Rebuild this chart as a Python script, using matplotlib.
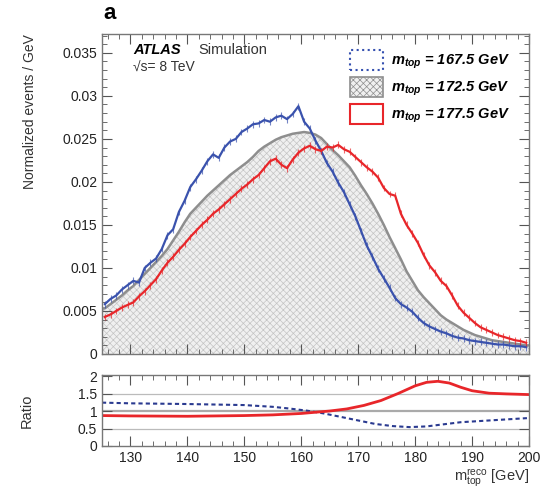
import matplotlib
matplotlib.use("Agg")
import matplotlib.pyplot as plt
import matplotlib.ticker as mticker
from matplotlib.patches import Patch
import numpy as np

plt.rcParams["font.family"] = ["Liberation Sans", "DejaVu Sans"]
plt.rcParams["mathtext.fontset"] = "custom"
plt.rcParams["mathtext.rm"] = "Liberation Sans"
plt.rcParams["mathtext.it"] = "Liberation Sans:italic:bold"
plt.rcParams["mathtext.bf"] = "Liberation Sans:bold"
plt.rcParams["hatch.color"] = "#c4c4c4"
plt.rcParams["hatch.linewidth"] = 0.5

# 1 GeV bins, 125 - 200 GeV
bin_edges = np.arange(125, 201, 1)

m1725 = [0.0053, 0.0058, 0.0063, 0.0068, 0.0074, 0.0079, 0.0086, 0.0093, 0.0100, 0.0107,
         0.0114, 0.0122, 0.0132, 0.0142, 0.0153, 0.0163, 0.0170, 0.0177, 0.0184, 0.0190,
         0.0196, 0.0202, 0.0208, 0.0213, 0.0218, 0.0223, 0.0229, 0.0236, 0.0241, 0.0245,
         0.0249, 0.0252, 0.0254, 0.0256, 0.0257, 0.0258, 0.0257, 0.0255, 0.0251, 0.0244,
         0.0237, 0.0231, 0.0224, 0.0217, 0.0207, 0.0196, 0.0186, 0.0175, 0.0163, 0.0150,
         0.0136, 0.0123, 0.0110, 0.0096, 0.0085, 0.0074, 0.0066, 0.0059, 0.0052, 0.0045,
         0.0040, 0.0036, 0.0032, 0.0028, 0.0025, 0.0022, 0.0020, 0.0018, 0.0016, 0.0015,
         0.0014, 0.0013, 0.0012, 0.0011, 0.0010]

m1675 = [0.0058, 0.0064, 0.0068, 0.0075, 0.0080, 0.0085, 0.0083, 0.0100, 0.0106, 0.0111,
         0.0122, 0.0138, 0.0145, 0.0165, 0.0178, 0.0194, 0.0203, 0.0213, 0.0224, 0.0232,
         0.0228, 0.0240, 0.0247, 0.0250, 0.0258, 0.0262, 0.0267, 0.0268, 0.0272, 0.0270,
         0.0275, 0.0277, 0.0273, 0.0279, 0.0288, 0.0270, 0.0262, 0.0248, 0.0236, 0.0222,
         0.0212, 0.0199, 0.0188, 0.0174, 0.0160, 0.0143, 0.0126, 0.0113, 0.0099, 0.0088,
         0.0077, 0.0065, 0.0058, 0.0054, 0.0049, 0.0042, 0.0036, 0.0032, 0.0029, 0.0026,
         0.0024, 0.0021, 0.0019, 0.0018, 0.0016, 0.0015, 0.0014, 0.0013, 0.0012, 0.0011,
         0.0011, 0.0010, 0.0009, 0.0009, 0.0008]

m1775 = [0.0043, 0.0046, 0.0050, 0.0054, 0.0057, 0.0060, 0.0067, 0.0073, 0.0080, 0.0087,
         0.0097, 0.0106, 0.0113, 0.0121, 0.0128, 0.0136, 0.0143, 0.0150, 0.0156, 0.0163,
         0.0168, 0.0174, 0.0180, 0.0186, 0.0192, 0.0197, 0.0203, 0.0208, 0.0216, 0.0224,
         0.0227, 0.0220, 0.0216, 0.0226, 0.0234, 0.0239, 0.0242, 0.0238, 0.0236, 0.0241,
         0.0240, 0.0243, 0.0238, 0.0235, 0.0229, 0.0223, 0.0217, 0.0212, 0.0205, 0.0193,
         0.0186, 0.0184, 0.0163, 0.0150, 0.0140, 0.0129, 0.0115, 0.0103, 0.0095, 0.0085,
         0.0079, 0.0068, 0.0056, 0.0048, 0.0042, 0.0036, 0.0031, 0.0028, 0.0025, 0.0022,
         0.0020, 0.0018, 0.0016, 0.0015, 0.0013]
stat_err = 0.0004

# ratio of fitted templates to 172.5 GeV
ratio_x = [125, 130, 140, 150, 155, 158, 161, 164, 167, 170, 173, 176, 179, 182, 185,
           188, 192, 196, 200]
ratio_lo = [1.24, 1.22, 1.20, 1.17, 1.12, 1.07, 1.01, 0.93, 0.83, 0.73, 0.63, 0.57,
            0.54, 0.56, 0.62, 0.68, 0.72, 0.76, 0.80]
ratio_hi_x = [125, 130, 140, 150, 155, 160, 165, 168, 171, 174, 177, 180, 182, 184,
              186, 188, 190, 193, 196, 200]
ratio_hi = [0.87, 0.86, 0.85, 0.87, 0.89, 0.93, 1.00, 1.06, 1.16, 1.30, 1.50, 1.72,
            1.82, 1.85, 1.80, 1.68, 1.58, 1.51, 1.49, 1.47]

BLUE = "#3a52ad"
RED = "#e8262a"
GREY = "#8e8e8e"

fig = plt.figure(figsize=(5.42, 4.9), dpi=100)
ax = fig.add_axes([0.1882, 0.2776, 0.7878, 0.6531])
rx = fig.add_axes([0.1882, 0.0898, 0.7878, 0.1449])

centers = (bin_edges[:-1] + bin_edges[1:]) / 2
x_fill = np.concatenate([[125], centers, [200]])
y_fill = np.concatenate([[m1725[0]], m1725, [m1725[-1]]])
ax.fill_between(x_fill, 0, y_fill, facecolor="#f0f0f0", edgecolor="#c4c4c4",
                hatch="xxxxx", lw=0)
ax.plot(x_fill, y_fill, color=GREY, lw=1.8)
for vals, col in [(m1675, BLUE), (m1775, RED)]:
    ax.plot(centers, vals, color=col, lw=1.6)
    ax.errorbar(centers, vals, yerr=stat_err, fmt="none", ecolor=col, elinewidth=0.8,
                alpha=0.7)

ax.set_xlim(125, 200)
ax.set_ylim(0, 0.0372)
ax.yaxis.set_major_locator(mticker.MultipleLocator(0.005))
ax.yaxis.set_minor_locator(mticker.MultipleLocator(0.001))
ax.yaxis.set_major_formatter(mticker.FuncFormatter(lambda v, _: "0" if v == 0 else f"{v:g}"))
ax.xaxis.set_major_locator(mticker.MultipleLocator(10))
ax.xaxis.set_minor_locator(mticker.MultipleLocator(2))
ax.tick_params(labelbottom=False)
ax.set_ylabel("Normalized events / GeV", loc="top", fontsize=10, color="#333",
              labelpad=18)

ax.text(0.073, 0.95, "ATLAS", transform=ax.transAxes, fontsize=10.5, fontweight="bold",
        style="italic", va="center")
ax.text(0.225, 0.95, "Simulation", transform=ax.transAxes, fontsize=10.5, va="center",
        color="#333")
ax.text(0.073, 0.893, "\u221as= 8 TeV", transform=ax.transAxes, fontsize=10, va="center",
        color="#333")

handles = [
    Patch(facecolor="none", edgecolor="#3550b0", linestyle=":", lw=1.5),
    Patch(facecolor="#f0f0f0", edgecolor=GREY, hatch="xxxxx", lw=1.2),
    Patch(facecolor="none", edgecolor=RED, lw=1.5),
]
labels = ["$m_{top}$ = 167.5 GeV", "$m_{top}$ = 172.5 GeV", "$m_{top}$ = 177.5 GeV"]
leg = ax.legend(handles, labels, loc="upper right", bbox_to_anchor=(0.985, 0.99),
                frameon=False, handlelength=2.3, handleheight=1.7, labelspacing=0.4,
                handletextpad=0.5, prop={"weight": "bold", "style": "italic", "size": 10.5})

rx.plot(ratio_x, ratio_lo, color="#2a3a90", lw=1.5, ls=(0, (2, 1.5)))
rx.plot(ratio_hi_x, ratio_hi, color=RED, lw=2.0)
for yv in (0.5, 1.5):
    rx.axhline(yv, color="#bbbbbb", lw=0.9, zorder=0)
rx.axhline(1.0, color="#aaaaaa", lw=1.6, zorder=0)
rx.set_xlim(125, 200)
rx.set_ylim(0, 2.03)
rx.yaxis.set_major_locator(mticker.FixedLocator([0, 0.5, 1, 1.5, 2]))
rx.yaxis.set_major_formatter(mticker.FuncFormatter(lambda v, _: f"{v:g}"))
rx.xaxis.set_major_locator(mticker.MultipleLocator(10))
rx.xaxis.set_minor_locator(mticker.MultipleLocator(2))
rx.set_ylabel("Ratio", fontsize=10.5, color="#333", labelpad=32)
rx.set_xlabel(r"$\mathrm{m_{top}^{reco}}$ [GeV]", loc="right", fontsize=10.5, color="#333",
              labelpad=2)

for a in (ax, rx):
    a.tick_params(which="both", direction="in", top=True, right=True, colors="#555",
                  labelcolor="#222", labelsize=10)
    a.tick_params(which="major", length=7)
    a.tick_params(which="minor", length=3.5)
    for sp in a.spines.values():
        sp.set_color("#777")
        sp.set_linewidth(1.0)

fig.text(0.19, 0.973, "a", fontsize=16, fontweight="bold", va="center")

fig.savefig("out.png", dpi=100)
